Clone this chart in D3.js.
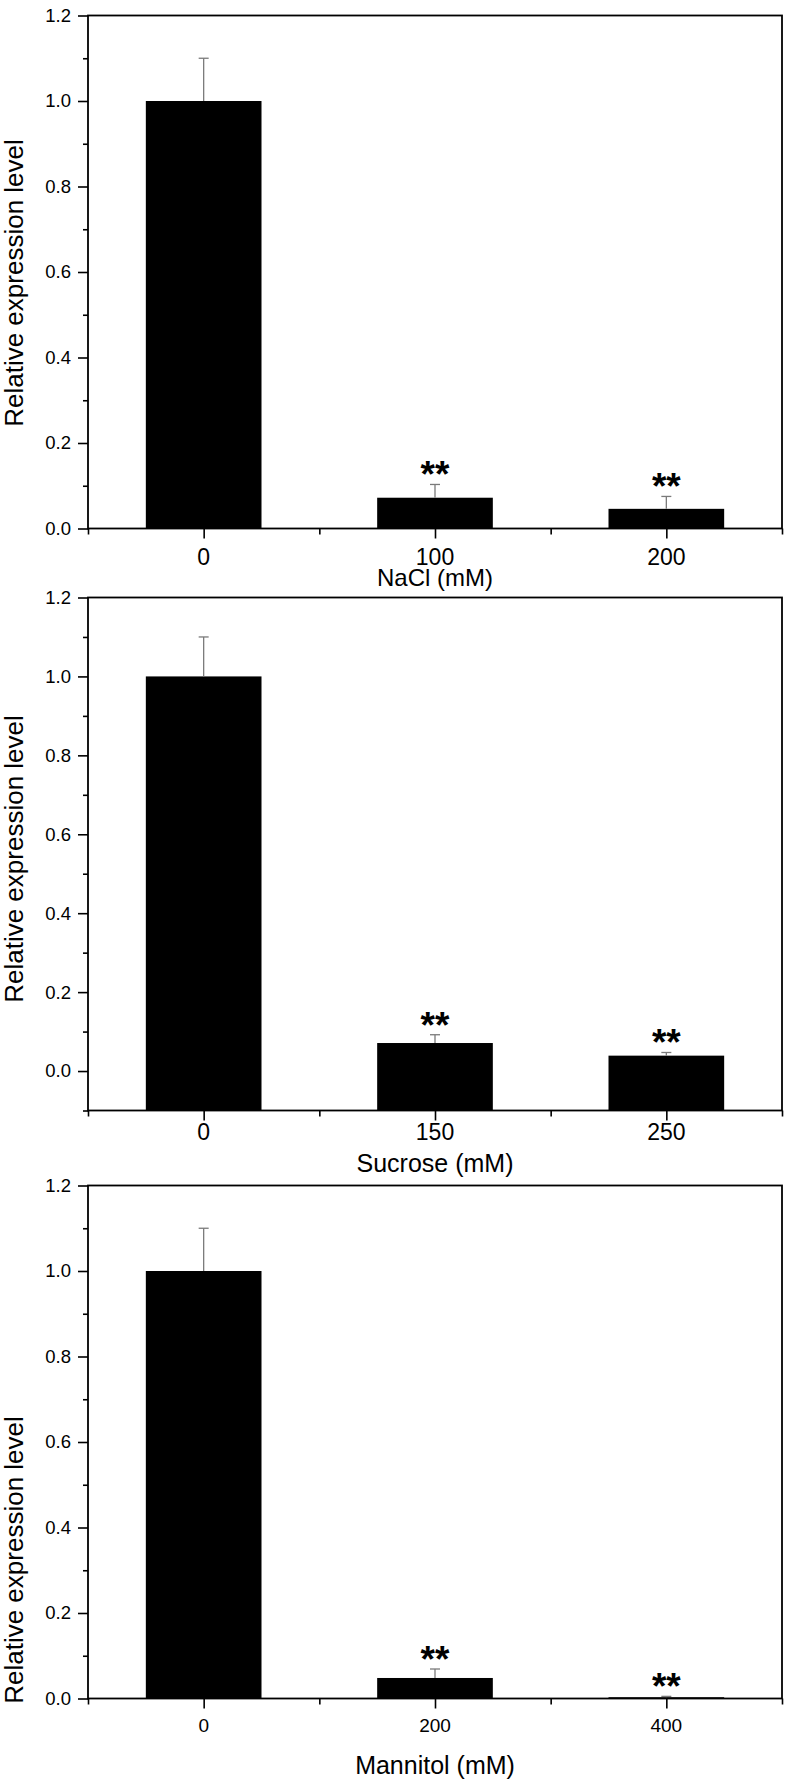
<!DOCTYPE html>
<html lang="en">
<head>
    <meta charset="UTF-8">
    <title>Relative expression under osmotic stress</title>
    <script src="https://d3js.org/d3.v7.min.js"></script>
    <style>
        body { margin: 0; background: #fff; }
        svg { display: block; font-family: "Liberation Sans", Arial, sans-serif; }
        .tick text { fill: #000; }
    </style>
</head>
<body>
    <div id="chart"></div>

    <script>
        // values
        const naclLabels = ["0", "100", "200"];
        const naclMeans = [1.0, 0.072, 0.046];
        const naclErrors = [0.1, 0.031, 0.029];

        const sucroseLabels = ["0", "150", "250"];
        const sucroseMeans = [1.0, 0.071, 0.039];
        const sucroseErrors = [0.1, 0.021, 0.008];

        const mannitolLabels = ["0", "200", "400"];
        const mannitolMeans = [1.0, 0.048, 0.003];
        const mannitolErrors = [0.1, 0.021, 0.002];

        const significance = ["", "**", "**"];
        const yMajorTicks = [0, 0.2, 0.4, 0.6, 0.8, 1.0, 1.2];
        const yMinorTicks = [-0.1, 0.1, 0.3, 0.5, 0.7, 0.9, 1.1];

        const panels = [
            { title: "NaCl (mM)", labels: naclLabels, means: naclMeans, errors: naclErrors,
              yMin: 0, top: 15.5, bottom: 528.5, tickY: 565, tickSize: 23, titleY: 586, titleSize: 24, yTitleC: 283 },
            { title: "Sucrose (mM)", labels: sucroseLabels, means: sucroseMeans, errors: sucroseErrors,
              yMin: -0.1, top: 597.5, bottom: 1110.5, tickY: 1140, tickSize: 23, titleY: 1172, titleSize: 25, yTitleC: 859 },
            { title: "Mannitol (mM)", labels: mannitolLabels, means: mannitolMeans, errors: mannitolErrors,
              yMin: 0, top: 1185.5, bottom: 1698.5, tickY: 1732, tickSize: 19, titleY: 1774, titleSize: 25, yTitleC: 1560 }
        ];

        const left = 88, right = 782;
        const svg = d3.select("#chart").append("svg").attr("width", 790).attr("height", 1784);

        panels.forEach(p => {
            const g = svg.append("g");
            const x = d3.scaleLinear().domain([-0.5, 2.5]).range([left, right]);
            const y = d3.scaleLinear().domain([p.yMin, 1.2]).range([p.bottom, p.top]);
            const barW = x(0.25) - x(-0.25);
            const rows = p.means.map((m, i) => ({ i, m, e: p.errors[i], star: significance[i] }));

            // bars
            g.selectAll("rect.bar")
                .data(rows)
                .enter().append("rect")
                .attr("class", "bar")
                .attr("x", d => x(d.i) - barW / 2)
                .attr("y", d => y(d.m))
                .attr("width", barW)
                .attr("height", d => y(p.yMin) - y(d.m))
                .attr("fill", "#000");

            // error bars (upper half only)
            g.selectAll("line.err")
                .data(rows)
                .enter().append("line")
                .attr("x1", d => x(d.i)).attr("x2", d => x(d.i))
                .attr("y1", d => y(d.m)).attr("y2", d => y(d.m + d.e))
                .attr("stroke", "#7a7a7a").attr("stroke-width", 1.3);
            g.selectAll("line.cap")
                .data(rows)
                .enter().append("line")
                .attr("x1", d => x(d.i) - 5).attr("x2", d => x(d.i) + 5)
                .attr("y1", d => y(d.m + d.e)).attr("y2", d => y(d.m + d.e))
                .attr("stroke", "#7a7a7a").attr("stroke-width", 1.3);

            // significance stars
            g.selectAll("text.star")
                .data(rows.filter(d => d.star))
                .enter().append("text")
                .attr("x", d => x(d.i))
                .attr("y", d => y(d.m + d.e) + 3)
                .attr("text-anchor", "middle")
                .attr("font-size", 37).attr("font-weight", "bold")
                .text(d => d.star);

            // y axis
            const yMajor = g.append("g").attr("transform", `translate(${left},0)`)
                .call(d3.axisLeft(y).tickValues(yMajorTicks).tickSize(10).tickPadding(7).tickFormat(d3.format(".1f")));
            const yMinor = g.append("g").attr("transform", `translate(${left},0)`)
                .call(d3.axisLeft(y).tickValues(yMinorTicks.filter(v => v >= p.yMin)).tickSize(5).tickFormat(""));
            yMajor.selectAll("text").attr("font-size", 18.5);

            // x axis
            const xMajor = g.append("g").attr("transform", `translate(0,${p.bottom})`)
                .call(d3.axisBottom(x).tickValues([0, 1, 2]).tickSize(10).tickFormat(""));
            const xMinor = g.append("g").attr("transform", `translate(0,${p.bottom})`)
                .call(d3.axisBottom(x).tickValues([-0.5, 0.5, 1.5, 2.5]).tickSize(6).tickFormat(""));
            [yMajor, yMinor, xMajor, xMinor].forEach(a => {
                a.select(".domain").remove();
                a.selectAll("line").attr("stroke", "#000").attr("stroke-width", 1.6);
                a.attr("font-family", null);
            });

            g.selectAll("text.xlab")
                .data(p.labels)
                .enter().append("text")
                .attr("x", (d, i) => x(i))
                .attr("y", p.tickY)
                .attr("text-anchor", "middle")
                .attr("font-size", p.tickSize)
                .text(d => d);

            // frame
            g.append("rect")
                .attr("x", left).attr("y", p.top)
                .attr("width", right - left).attr("height", p.bottom - p.top)
                .attr("fill", "none").attr("stroke", "#000").attr("stroke-width", 1.8);

            // titles
            g.append("text")
                .attr("x", (left + right) / 2).attr("y", p.titleY)
                .attr("text-anchor", "middle").attr("font-size", p.titleSize)
                .text(p.title);
            g.append("text")
                .attr("transform", `translate(23,${p.yTitleC}) rotate(-90)`)
                .attr("text-anchor", "middle").attr("font-size", 26)
                .text("Relative expression level");
        });
    </script>
</body>
</html>
